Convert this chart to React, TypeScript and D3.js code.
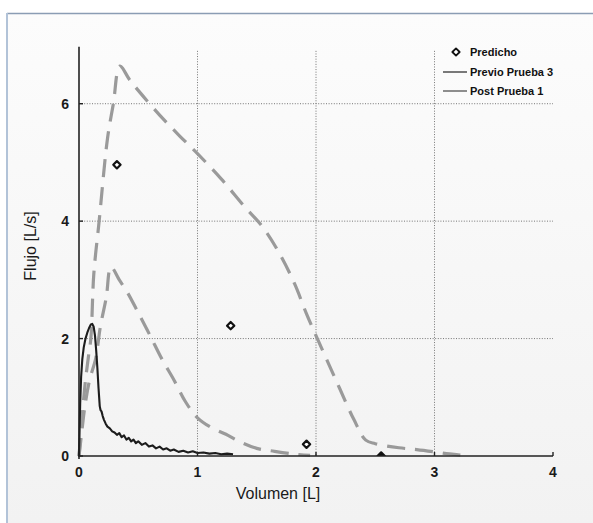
import React from "react";
import * as d3 from "d3";

// Predicted values (Predicho)
const predVol = [0.32, 1.28, 1.92, 2.55];
const predFlow = [4.96, 2.22, 0.2, 0.0];

// Post Prueba 1 (large dashed loop)
const postVol = [0, 0.02, 0.05, 0.08, 0.1, 0.125, 0.17, 0.24, 0.29, 0.345, 0.43, 0.57, 0.72, 0.85, 1.0, 1.2, 1.4, 1.55, 1.7, 1.82, 1.92, 2.0, 2.1, 2.2, 2.32, 2.42, 2.5, 2.7, 2.85, 3.0, 3.1, 3.2, 3.3];
const postFlow = [0, 0.5, 1.2, 1.7, 2.0, 3.1, 4.0, 5.4, 6.0, 6.64, 6.4, 6.06, 5.72, 5.45, 5.15, 4.72, 4.24, 3.9, 3.42, 2.93, 2.42, 2.05, 1.6, 1.15, 0.62, 0.27, 0.21, 0.14, 0.11, 0.07, 0.04, 0.02, 0.0];

// second dashed trace (smaller loop)
const post2Vol = [0, 0.02, 0.05, 0.09, 0.14, 0.18, 0.23, 0.27, 0.34, 0.41, 0.5, 0.6, 0.7, 0.8, 0.9, 1.0, 1.12, 1.24, 1.33, 1.5, 1.65, 1.83, 1.95];
const post2Flow = [0, 0.35, 0.85, 1.3, 1.65, 2.2, 2.7, 3.22, 3.0, 2.78, 2.44, 2.05, 1.65, 1.3, 0.92, 0.65, 0.48, 0.37, 0.27, 0.13, 0.08, 0.03, 0.01];

// Previo Prueba 3 (solid black)
const preVol = [0, 0.004, 0.01, 0.018, 0.028, 0.04, 0.055, 0.07, 0.085, 0.1, 0.112, 0.124, 0.135, 0.145, 0.155, 0.165, 0.175, 0.182, 0.19, 0.2, 0.21, 0.225, 0.24, 0.26, 0.28, 0.3, 0.32, 0.34, 0.36, 0.38, 0.4, 0.42, 0.44, 0.46, 0.48, 0.5, 0.53, 0.56, 0.59, 0.62, 0.65, 0.68, 0.71, 0.74, 0.77, 0.8, 0.84, 0.88, 0.92, 0.96, 1.0, 1.05, 1.1, 1.15, 1.2, 1.25, 1.3];
const preFlow = [0, 0.35, 0.9, 1.35, 1.65, 1.85, 2.0, 2.1, 2.18, 2.24, 2.25, 2.2, 2.05, 1.8, 1.5, 1.15, 0.85, 0.78, 0.76, 0.68, 0.62, 0.55, 0.5, 0.47, 0.42, 0.4, 0.36, 0.39, 0.32, 0.35, 0.28, 0.31, 0.25, 0.28, 0.22, 0.25, 0.19, 0.22, 0.16, 0.18, 0.13, 0.16, 0.11, 0.13, 0.09, 0.11, 0.07, 0.09, 0.06, 0.08, 0.05, 0.06, 0.04, 0.05, 0.03, 0.04, 0.03];

const xTicks = [0, 1, 2, 3, 4];
const yTicks = [0, 2, 4, 6];
const xGrid = [1, 2, 3];
const yGrid = [2, 4, 6];
const legendLabels = ["Predicho", "Previo Prueba 3", "Post Prueba 1"];

export default function App() {
  const x = d3.scaleLinear().domain([0, 4]).range([79, 553]);
  const y = d3.scaleLinear().domain([0, 7]).range([456, 45]);
  const font = "'Liberation Sans', Arial, sans-serif";

  const smooth = d3
    .line<[number, number]>()
    .x((d) => x(d[0]))
    .y((d) => y(d[1]))
    .curve(d3.curveCatmullRom.alpha(0.5));
  const jag = d3
    .line<[number, number]>()
    .x((d) => x(d[0]))
    .y((d) => y(d[1]));

  const post = postVol.map((v, i) => [v, postFlow[i]] as [number, number]);
  const post2 = post2Vol.map((v, i) => [v, post2Flow[i]] as [number, number]);
  const pre = preVol.map((v, i) => [v, preFlow[i]] as [number, number]);
  const symType = (d3 as any).symbolDiamond2 || d3.symbolSquare;
  const diamond = d3.symbol().type(symType).size(34)();

  return (
    <div style={{ position: "fixed", left: 0, top: 0 }}>
      <svg width={593} height={523} style={{ display: "block" }}>
        <defs>
          <linearGradient id="bg" x1="0" y1="0" x2="0" y2="1">
            <stop offset="0" stopColor="#fcfcfc" />
            <stop offset="1" stopColor="#f2f2f2" />
          </linearGradient>
          <clipPath id="plot">
            <rect x={x(0)} y={y(7)} width={x(4) - x(0)} height={y(0) - y(7)} />
          </clipPath>
        </defs>
        <rect x={0} y={0} width={593} height={523} fill="#ffffff" />
        <rect x={7} y={13} width={586} height={510} fill="url(#bg)" />
        <line x1={7} x2={593} y1={13.5} y2={13.5} stroke="#8b9db4" strokeWidth={1.5} />
        <line x1={7} x2={7} y1={13} y2={523} stroke="#b2c3d8" strokeWidth={2} />

        {/* grid */}
        {xGrid.map((t) => (
          <line key={"gx" + t} x1={x(t)} x2={x(t)} y1={y(6.9)} y2={y(0)} stroke="#666" strokeWidth={0.9} strokeDasharray="1,1.6" />
        ))}
        {yGrid.map((t) => (
          <line key={"gy" + t} x1={x(0)} x2={x(4)} y1={y(t)} y2={y(t)} stroke="#666" strokeWidth={0.9} strokeDasharray="1,1.6" />
        ))}

        {/* dashed traces */}
        <path d={smooth(post) || ""} fill="none" stroke="#9a9a9a" strokeWidth={3.2} strokeDasharray="18,10" />
        <path d={smooth(post2) || ""} fill="none" stroke="#9a9a9a" strokeWidth={3.2} strokeDasharray="18,10" />

        {/* solid trace */}
        <path d={jag(pre) || ""} fill="none" stroke="#1c1c1c" strokeWidth={2.1} strokeLinejoin="round" />

        {/* predicted */}
        <g clipPath="url(#plot)">
          {predVol.map((v, i) => (
            <path key={"p" + i} d={diamond || ""} transform={`translate(${x(v)},${y(predFlow[i])})`} fill={predFlow[i] === 0 ? "#111" : "#fff"} stroke="#111" strokeWidth={2.2} strokeLinejoin="round" />
          ))}
        </g>

        {/* axes */}
        <line x1={x(0)} x2={x(0)} y1={y(6.97)} y2={y(0) + 3} stroke="#222" strokeWidth={1.6} />
        <line x1={x(0) - 1} x2={x(4)} y1={y(0)} y2={y(0)} stroke="#222" strokeWidth={1.6} />
        {xTicks.map((t) => (
          <g key={"xt" + t}>
            <line x1={x(t)} x2={x(t)} y1={y(0)} y2={y(0) - 4} stroke="#222" strokeWidth={1.4} />
            <text x={x(t)} y={y(0) + 21} textAnchor="middle" fontFamily={font} fontWeight="bold" fontSize={14} fill="#1a1a1a">
              {t}
            </text>
          </g>
        ))}
        {yTicks.map((t) => (
          <g key={"yt" + t}>
            <line x1={x(0)} x2={x(0) + 4} y1={y(t)} y2={y(t)} stroke="#222" strokeWidth={1.4} />
            <text x={x(0) - 10} y={y(t) + 5} textAnchor="end" fontFamily={font} fontWeight="bold" fontSize={14} fill="#1a1a1a">
              {t}
            </text>
          </g>
        ))}

        <text x={278} y={499} textAnchor="middle" fontFamily={font} fontSize={16} fill="#1a1a1a">
          Volumen [L]
        </text>
        <text transform="translate(36,246) rotate(-90)" textAnchor="middle" fontFamily={font} fontSize={16} fill="#1a1a1a">
          Flujo [L/s]
        </text>

        {/* legend */}
        <path d={diamond || ""} transform="translate(456,52)" fill="#fff" stroke="#111" strokeWidth={1.8} strokeLinejoin="round" />
        <line x1={443} x2={467} y1={72} y2={72} stroke="#222" strokeWidth={1.2} />
        <line x1={443} x2={467} y1={91} y2={91} stroke="#444" strokeWidth={1.2} />
        {legendLabels.map((l, i) => (
          <text key={l} x={470} y={56 + i * 19.5} fontFamily={font} fontWeight="bold" fontSize={11} fill="#111">
            {l}
          </text>
        ))}
      </svg>
    </div>
  );
}
